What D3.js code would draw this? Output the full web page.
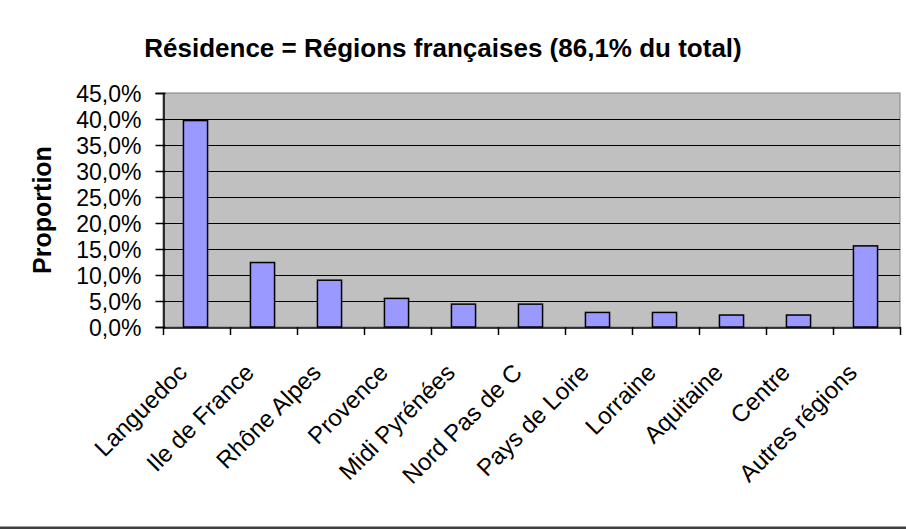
<!DOCTYPE html>
<html>
<head>
<meta charset="utf-8">
<script src="https://cdn.jsdelivr.net/npm/d3@7"></script>
<style>
  body { margin: 0; background: #fff; }
  svg { display: block; font-family: "Liberation Sans", Arial, sans-serif; }
</style>
</head>
<body>
<div id="chart-area"></div>
<script>
// Data
var regions = ["Languedoc", "Ile de France", "Rhône Alpes", "Provence", "Midi Pyrénées",
    "Nord Pas de C", "Pays de Loire", "Lorraine", "Aquitaine", "Centre", "Autres régions"];
var proportions = [0.397, 0.124, 0.090, 0.055, 0.044, 0.044, 0.028, 0.028, 0.023, 0.023, 0.156];
var yTicks = [0, 0.05, 0.10, 0.15, 0.20, 0.25, 0.30, 0.35, 0.40, 0.45];

var W = 906, H = 529;
var plot = { left: 163, right: 900, top: 93, bottom: 327 };

var fr = d3.formatLocale({ decimal: ",", thousands: " ", grouping: [3], currency: ["", " €"] });
var fmt = fr.format(".1%");

var svg = d3.select("#chart-area").append("svg")
    .attr("width", W)
    .attr("height", H);

var xScale = d3.scaleBand()
    .domain(regions)
    .range([plot.left, plot.right]);

var yScale = d3.scaleLinear()
    .domain([0, 0.45])
    .range([plot.bottom, plot.top]);

// plot background
svg.append("rect")
    .attr("x", plot.left)
    .attr("y", plot.top)
    .attr("width", plot.right - plot.left)
    .attr("height", plot.bottom - plot.top)
    .attr("fill", "#c0c0c0")
    .attr("stroke", "#808080")
    .attr("stroke-width", 1);

// gridlines
svg.append("g")
    .selectAll("line")
    .data(yTicks.slice(1, -1))
    .enter()
    .append("line")
    .attr("x1", plot.left)
    .attr("x2", plot.right)
    .attr("y1", function(d) { return Math.round(yScale(d)) + 0.5; })
    .attr("y2", function(d) { return Math.round(yScale(d)) + 0.5; })
    .attr("stroke", "#000")
    .attr("stroke-width", 1.2);

// bars
var barW = xScale.bandwidth() * 0.36;
svg.append("g")
    .selectAll("rect")
    .data(proportions)
    .enter()
    .append("rect")
    .attr("x", function(d, i) { return xScale(regions[i]) + xScale.bandwidth() / 2 - barW / 2 - 1; })
    .attr("y", function(d) { return yScale(d); })
    .attr("width", barW)
    .attr("height", function(d) { return plot.bottom - yScale(d); })
    .attr("fill", "#9999ff")
    .attr("stroke", "#000")
    .attr("stroke-width", 1.5);

// y axis
var yAxis = d3.axisLeft(yScale)
    .tickValues(yTicks)
    .tickFormat(fmt)
    .tickSize(8)
    .tickPadding(14);

var gy = svg.append("g")
    .attr("transform", "translate(" + (plot.left + 0.5) + ",0)")
    .call(yAxis);
gy.select(".domain").attr("stroke", "#000").attr("stroke-width", 1.5);
gy.selectAll(".tick line").attr("stroke", "#000").attr("stroke-width", 1.5).attr("x2", 2).attr("x1", -8);
gy.selectAll(".tick text")
    .attr("fill", "#000")
    .style("font-size", "23px")
    .attr("dy", "0.36em");

// x axis
var xAxis = d3.axisBottom(xScale).tickSize(0).tickFormat("");
var gx = svg.append("g")
    .attr("transform", "translate(0," + (plot.bottom + 0.5) + ")")
    .call(xAxis);
gx.select(".domain").attr("stroke", "#000").attr("stroke-width", 1.5);

// tick marks at category boundaries
svg.append("g")
    .selectAll("line")
    .data(regions.concat(["__end"]))
    .enter()
    .append("line")
    .attr("x1", function(d, i) { return (i < regions.length ? xScale(d) : plot.right) + 0.5; })
    .attr("x2", function(d, i) { return (i < regions.length ? xScale(d) : plot.right) + 0.5; })
    .attr("y1", plot.bottom)
    .attr("y2", plot.bottom + 8)
    .attr("stroke", "#000")
    .attr("stroke-width", 1.5);

// rotated category labels
svg.append("g")
    .selectAll("text")
    .data(regions)
    .enter()
    .append("text")
    .attr("transform", function(d) {
        var cx = xScale(d) + xScale.bandwidth() / 2 - 8;
        return "translate(" + cx + "," + (plot.bottom + 47) + ") rotate(-45)";
    })
    .attr("text-anchor", "end")
    .style("font-size", "24px")
    .text(function(d) { return d; });

// y title
svg.append("text")
    .attr("transform", "translate(51,210) rotate(-90)")
    .attr("text-anchor", "middle")
    .style("font-size", "25px")
    .style("font-weight", "bold")
    .text("Proportion");

// title
svg.append("text")
    .attr("x", 443)
    .attr("y", 57)
    .attr("text-anchor", "middle")
    .style("font-size", "26px")
    .style("font-weight", "bold")
    .text("Résidence = Régions françaises (86,1% du total)");

// bottom rule
svg.append("line")
    .attr("x1", 0).attr("x2", W)
    .attr("y1", 526.5).attr("y2", 526.5)
    .attr("stroke", "#a0a0a0");
svg.append("rect")
    .attr("x", 0).attr("y", 527)
    .attr("width", W).attr("height", 2)
    .attr("fill", "#404040");
</script>
</body>
</html>
